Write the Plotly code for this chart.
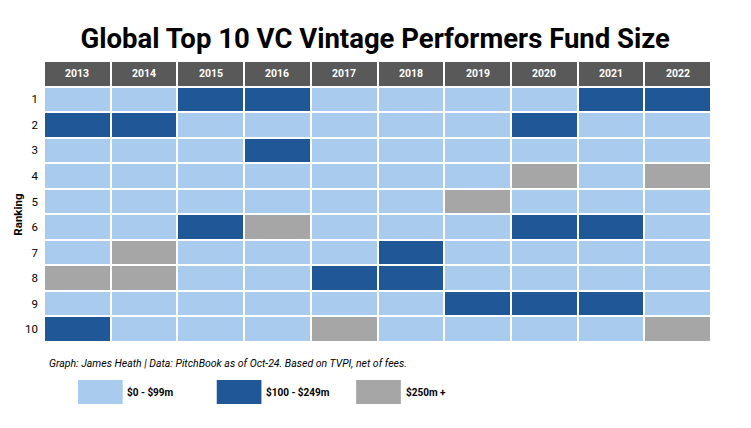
import plotly.graph_objects as go

years = ["2013", "2014", "2015", "2016", "2017", "2018", "2019", "2020", "2021", "2022"]
ranks = [1, 2, 3, 4, 5, 6, 7, 8, 9, 10]
categories = ["$0 - $99m", "$100 - $249m", "$250m +"]
# 0 = $0-$99m, 1 = $100-$249m, 2 = $250m+
grid = [
    [0, 0, 1, 1, 0, 0, 0, 0, 1, 1],
    [1, 1, 0, 0, 0, 0, 0, 1, 0, 0],
    [0, 0, 0, 1, 0, 0, 0, 0, 0, 0],
    [0, 0, 0, 0, 0, 0, 0, 2, 0, 2],
    [0, 0, 0, 0, 0, 0, 2, 0, 0, 0],
    [0, 0, 1, 2, 0, 0, 0, 1, 1, 0],
    [0, 2, 0, 0, 0, 1, 0, 0, 0, 0],
    [2, 2, 0, 0, 1, 1, 0, 0, 0, 0],
    [0, 0, 0, 0, 0, 0, 1, 1, 1, 0],
    [1, 0, 0, 0, 2, 0, 0, 0, 0, 2],
]

LIGHT = "#A9CBEE"
DARK = "#1F5797"
GRAY = "#A6A6A6"
HEAD = "#595959"
cat_colors = [LIGHT, DARK, GRAY]
FONT = "Roboto, Liberation Sans, Arial, sans-serif"

header_val = 3
z = [[header_val] * len(years)] + grid
yvals = [0] + ranks
xidx = list(range(len(years)))

colorscale = [
    [0.0, LIGHT], [0.1667, LIGHT],
    [0.1667, DARK], [0.5, DARK],
    [0.5, GRAY], [0.8333, GRAY],
    [0.8333, HEAD], [1.0, HEAD],
]

fig = go.Figure(go.Heatmap(
    z=z, x=xidx, y=yvals,
    zmin=0, zmax=3, colorscale=colorscale, showscale=False,
    xgap=2, ygap=2, hoverinfo="skip",
))

annotations = []
for i, yr in enumerate(years):
    annotations.append(dict(x=i, y=0, xref="x", yref="y", text=f"<b>{yr}</b>",
                            showarrow=False, font=dict(color="white", size=10.5, family=FONT)))

annotations.append(dict(x=-0.053, y=0.452, xref="paper", yref="paper", text="<b>Ranking</b>",
                        textangle=-90, showarrow=False, xanchor="left", yanchor="middle",
                        font=dict(size=11.5, color="black", family=FONT)))
annotations.append(dict(x=0.004, y=-0.075, xref="paper", yref="paper", xanchor="left", yanchor="middle",
                        text="<i>Graph: James Heath | Data: PitchBook as of Oct-24. Based on TVPI, net of fees.</i>",
                        showarrow=False, font=dict(size=10.5, color="black", family=FONT)))

shapes = []
box_x0 = [0.051, 0.259, 0.468]
box_w = 0.067
for i, (lab, col) in enumerate(zip(categories, cat_colors)):
    shapes.append(dict(type="rect", xref="paper", yref="paper",
                       x0=box_x0[i], x1=box_x0[i] + box_w, y0=-0.221, y1=-0.135,
                       fillcolor=col, line=dict(width=0)))
    annotations.append(dict(x=box_x0[i] + box_w + 0.004, y=-0.178, xref="paper", yref="paper",
                            xanchor="left", yanchor="middle", text=f"<b>{lab}</b>", showarrow=False,
                            font=dict(size=10, color="black", family=FONT)))

fig.update_layout(
    width=751, height=428,
    margin=dict(l=36, r=48, t=53, b=94),
    paper_bgcolor="white", plot_bgcolor="white",
    title=dict(text="<b>Global Top 10 VC Vintage Performers Fund Size</b>", x=0.489, xanchor="center",
               y=0.93, yanchor="middle", font=dict(size=27.5, color="black", family=FONT)),
    xaxis=dict(range=[-0.5, len(years) - 0.5], showticklabels=False, showgrid=False,
               zeroline=False, ticks="", automargin=False),
    yaxis=dict(range=[10.5, -0.5], tickvals=ranks, ticktext=[str(r) for r in ranks],
               showgrid=False, zeroline=False, ticks="", automargin=False, ticklabelstandoff=5,
               tickfont=dict(size=11.5, color="black", family=FONT)),
    annotations=annotations, shapes=shapes,
)

fig.write_html("out.html")
